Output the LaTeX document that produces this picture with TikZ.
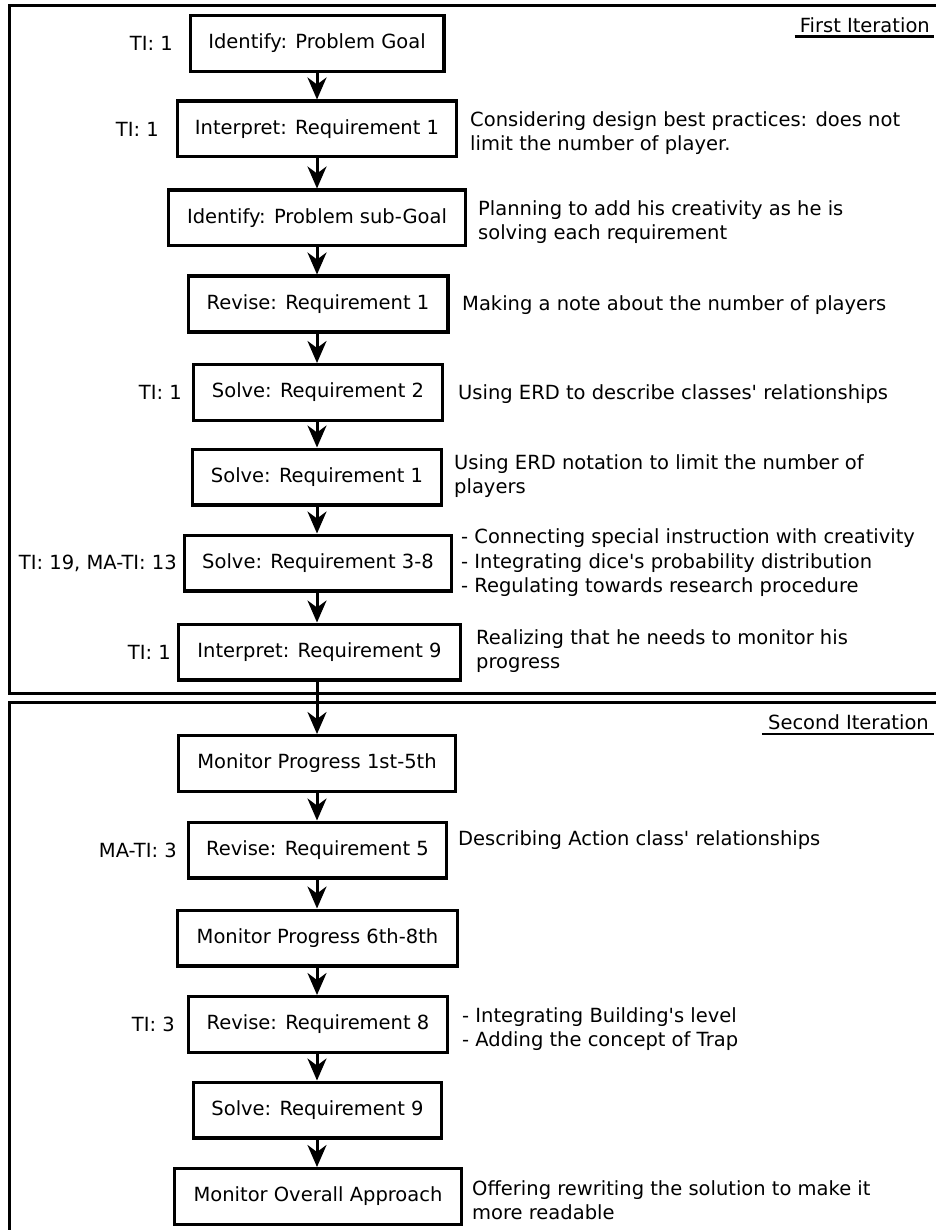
\documentclass[tikz,border=0pt]{standalone}
\usepackage{fontspec}
\setmainfont{DejaVu Sans}[Ligatures=TeXOff]
\usetikzlibrary{arrows.meta}
\begin{document}
\begin{tikzpicture}[x=1pt,y=-1pt,
  every node/.style={font=\fontsize{19.5}{24.5}\selectfont},
  stepbox/.style={draw, line width=3.2pt, minimum height=55.8pt, inner sep=0pt},
  note/.style={anchor=west, inner sep=0pt, align=left},
  tilabel/.style={anchor=east, inner sep=0pt},
  flow/.style={line width=3pt, -{Stealth[length=22pt,width=19pt,inset=7pt]}},
  frameline/.style={line width=3pt},
  uline/.style={line width=2.5pt},
  title/.style={anchor=east, inner sep=0pt}]
\useasboundingbox (0,0) rectangle (935,1230);

% frames
\draw[frameline] (945,6) -- (9,6) -- (9,693) -- (945,693);
\draw[frameline] (945,702) -- (9,702) -- (9,1240);

% titles
\node[title] (it1) at (930,25) {First Iteration};
\draw[uline] ([xshift=-5pt,yshift=-4pt]it1.south west) -- ([xshift=4pt,yshift=-4pt]it1.south east);
\node[title] (it2) at (929,722) {Second Iteration};
\draw[uline] ([xshift=-6pt,yshift=-4pt]it2.south west) -- ([xshift=5pt,yshift=-4pt]it2.south east);

% boxes
\node[stepbox, minimum width=253.8pt] (b1) at (317,43.5) {Identify: Problem Goal};
\node[stepbox, minimum width=278.8pt] (b2) at (317,129) {Interpret: Requirement 1};
\node[stepbox, minimum width=296.8pt] (b3) at (317,218) {Identify: Problem sub-Goal};
\node[stepbox, minimum width=259.8pt] (b4) at (318,304) {Revise: Requirement 1};
\node[stepbox, minimum width=248.8pt] (b5) at (318,392.5) {Solve: Requirement 2};
\node[stepbox, minimum width=248.8pt] (b6) at (317,477) {Solve: Requirement 1};
\node[stepbox, minimum width=266.8pt] (b7) at (318,563) {Solve: Requirement 3-8};
\node[stepbox, minimum width=281.8pt] (b8) at (319.5,652) {Interpret: Requirement 9};
\node[stepbox, minimum width=276.8pt] (b9) at (317,763.5) {Monitor Progress 1st-5th};
\node[stepbox, minimum width=257.8pt] (b10) at (317.5,850) {Revise: Requirement 5};
\node[stepbox, minimum width=279.8pt] (b11) at (317.5,938) {Monitor Progress 6th-8th};
\node[stepbox, minimum width=258.8pt] (b12) at (318,1024.5) {Revise: Requirement 8};
\node[stepbox, minimum width=247.8pt] (b13) at (317.5,1110) {Solve: Requirement 9};
\node[stepbox, minimum width=286.8pt] (b14) at (318,1196.5) {Monitor Overall Approach};

% connectors
\foreach \a/\b in {b1/b2,b2/b3,b3/b4,b4/b5,b5/b6,b6/b7,b7/b8,b8/b9,b9/b10,b10/b11,b11/b12,b12/b13,b13/b14}
  \draw[flow] (\a.south -| 317,0) -- (\b.north -| 317,0);

% left labels
\node[tilabel] (l1) at (173,43.5) {TI: 1};
\node[tilabel] (l2) at (159,129) {TI: 1};
\node[tilabel] (l5) at (182,392.5) {TI: 1};
\node[tilabel] (l7) at (177,563) {TI: 19, MA-TI: 13};
\node[tilabel] (l8) at (171,652) {TI: 1};
\node[tilabel] (l10) at (177,850) {MA-TI: 3};
\node[tilabel] (l12) at (175,1024.5) {TI: 3};

% notes
\node[note] (n2) at (470,133) {Considering design best practices: does not\\limit the number of player.};
\node[note] (n3) at (478,222) {Planning to add his creativity as he is\\solving each requirement};
\node[note] (n4) at (462,305) {Making a note about the number of players};
\node[note] (n5) at (458,394) {Using ERD to describe classes' relationships};
\node[note] (n6) at (454,476) {Using ERD notation to limit the number of\\players};
\node[note] (n7) at (461,563) {- Connecting special instruction with creativity\\- Integrating dice's probability distribution\\- Regulating towards research procedure};
\node[note] (n8) at (476,651) {Realizing that he needs to monitor his\\progress};
\node[note] (n10) at (458,840) {Describing Action class' relationships};
\node[note] (n12) at (462,1029) {- Integrating Building's level\\- Adding the concept of Trap};
\node[note] (n14) at (472,1200) {Offering rewriting the solution to make it\\more readable};
\end{tikzpicture}
\end{document}
